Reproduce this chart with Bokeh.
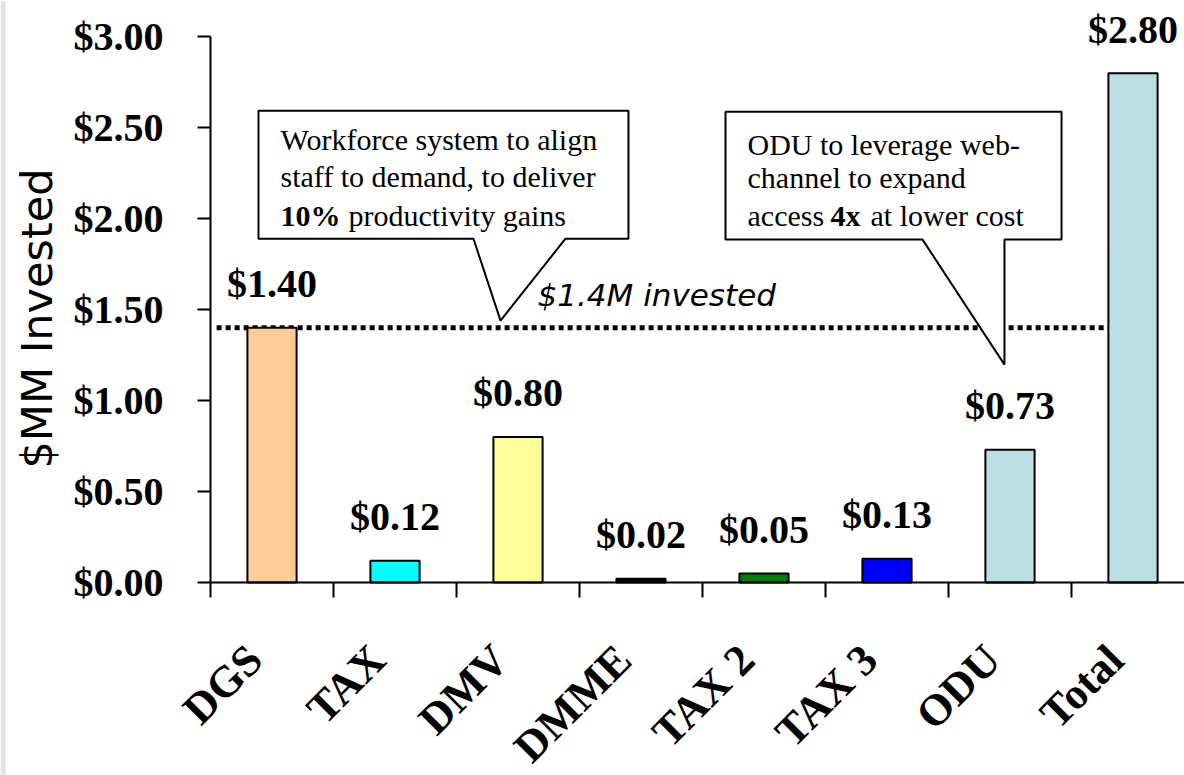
import math
from bokeh.plotting import figure
from bokeh.models import ColumnDataSource, FixedTicker, NumeralTickFormatter, Range1d, BoxAnnotation
from bokeh.core.properties import value
from bokeh.embed import file_html
from bokeh.resources import INLINE

categories = ["DGS", "TAX", "DMV", "DMME", "TAX 2", "TAX 3", "ODU", "Total"]
investments = [1.40, 0.12, 0.80, 0.02, 0.05, 0.13, 0.73, 2.80]
bar_colors = ["#FFCC99", "#00FFFF", "#FFFF99", "#000000", "#008000", "#0000FF", "#BBE0E3", "#BBE0E3"]
y_ticks = [0.0, 0.5, 1.0, 1.5, 2.0, 2.5, 3.0]
y_title = "$MM Invested"
invested_level = 1.4
invested_text = "$1.4M invested"
callout1_lines = ["Workforce system to align", "staff to demand, to deliver"]
callout1_bold = "10%"
callout1_rest = "productivity gains"
callout2_lines = ["ODU to leverage web-", "channel to expand"]
callout2_pre = "access"
callout2_bold = "4x"
callout2_rest = "at lower cost"

positions = [i + 0.5 for i in range(len(categories))]
label_shift = 0.14
labels = ["$%.2f" % v for v in investments]
src = ColumnDataSource(dict(x=positions, top=investments, color=bar_colors, label=labels))

W, H = 1184, 775
ZERO_X, ZERO_Y = 210, 582   # pixel position of the axes origin
PX_X, PX_Y = 123.0, 181.9
x_end = (W - ZERO_X) / PX_X
p = figure(width=W, height=H, output_backend="svg", toolbar_location=None,
           x_range=Range1d(-ZERO_X / PX_X, x_end),
           y_range=Range1d(-(H - ZERO_Y) / PX_Y, ZERO_Y / PX_Y),
           min_border_left=0, min_border_right=0, min_border_top=0, min_border_bottom=0)
p.outline_line_color = None
p.grid.visible = False
p.background_fill_color = "white"
p.border_fill_color = "white"

# x axis (drawn at value 0)
xa = p.xaxis[0]
xa.fixed_location = 0
xa.bounds = (0, x_end)
label_pos = [x - label_shift for x in positions]
xa.ticker = FixedTicker(ticks=label_pos, minor_ticks=list(range(len(categories) + 1)))
xa.major_label_overrides = {pos: cat for pos, cat in zip(label_pos, categories)}
xa.major_label_orientation = math.pi / 4
xa.major_tick_out = 0
xa.major_tick_in = 0
xa.minor_tick_out = 15
xa.minor_tick_in = 0
xa.minor_tick_line_width = 2
xa.minor_tick_line_color = "black"
xa.axis_line_width = 2
xa.axis_line_color = "black"
xa.major_label_text_font = "Liberation Serif"
xa.major_label_text_font_style = "bold"
xa.major_label_text_font_size = "44px"
xa.major_label_text_color = "black"
xa.major_label_standoff = 55

# y axis (drawn at x = 0)
ya = p.yaxis[0]
ya.fixed_location = 0
ya.ticker = FixedTicker(ticks=y_ticks)
ya.formatter = NumeralTickFormatter(format="$0.00")
ya.bounds = (0, 3)
ya.major_tick_out = 13
ya.major_tick_in = 0
ya.major_tick_line_width = 2
ya.minor_tick_line_color = None
ya.axis_line_width = 2
ya.axis_line_color = "black"
ya.major_label_text_font = "Liberation Serif"
ya.major_label_text_font_style = "bold"
ya.major_label_text_font_size = "40px"
ya.major_label_text_color = "black"
ya.major_label_standoff = 34

# y axis title
p.text(x=[-174 / PX_X], y=[264 / PX_Y], text=[y_title], angle=math.pi / 2,
       text_align="center", text_baseline="middle", text_font=value("DejaVu Sans"),
       text_font_size="43px", text_color="black")

# left grey strip of the slide
p.add_layout(BoxAnnotation(left=0, right=5, left_units="screen", right_units="screen",
                           fill_color="#E4E4DE", fill_alpha=1.0, line_color=None))

# reference line
p.line([positions[0] - 0.45, positions[-1]], [invested_level, invested_level],
       line_color="black", line_width=5, line_dash="5 4")

# bars
p.vbar(x="x", top="top", bottom=0, width=0.4, fill_color="color", line_color="black",
       line_width=2, source=src)
p.text(x="x", y="top", text="label", y_offset=-44, text_align="center",
       text_baseline="alphabetic", text_font=value("Liberation Serif"),
       text_font_style="bold", text_font_size="40px", text_color="black", source=src)

# reference label
p.text(x=[2.659], y=[1.515], text=[invested_text], y_offset=-12,
       text_font=value("DejaVu Sans"),
       text_font_style="italic", text_font_size="31px", text_color="black",
       text_baseline="alphabetic", text_align="left")

# callouts
c1x = [0.390, 3.398, 3.398, 2.886, 2.358, 2.138, 0.390]
c1y = [2.593, 2.593, 1.890, 1.890, 1.440, 1.890, 1.890]
p.patch(c1x, c1y, fill_color="white", line_color="black", line_width=2)
c2x = [4.187, 6.919, 6.919, 6.455, 6.455, 5.789, 4.187]
c2y = [2.588, 2.588, 1.885, 1.885, 1.198, 1.885, 1.885]
p.patch(c2x, c2y, fill_color="white", line_color="black", line_width=2)

serif = value("Liberation Serif")
fs = "30px"
dy = -13
p.text(x=[0.569, 0.569], y=[2.363, 2.159], text=callout1_lines, text_font=serif, y_offset=dy,
       text_font_size=fs, text_baseline="alphabetic", text_color="black")
p.text(x=[0.569], y=[1.945], text=[callout1_bold], text_font=serif, text_font_style="bold",
       y_offset=dy, text_font_size=fs, text_baseline="alphabetic", text_color="black")
p.text(x=[1.122], y=[1.945], text=[callout1_rest], text_font=serif, y_offset=dy,
       text_font_size=fs, text_baseline="alphabetic", text_color="black")

p.text(x=[4.366, 4.366], y=[2.335, 2.154], text=callout2_lines, text_font=serif, y_offset=dy,
       text_font_size=fs, text_baseline="alphabetic", text_color="black")
p.text(x=[4.366], y=[1.945], text=[callout2_pre], text_font=serif, y_offset=dy,
       text_font_size=fs, text_baseline="alphabetic", text_color="black")
p.text(x=[5.041], y=[1.945], text=[callout2_bold], text_font=serif, text_font_style="bold",
       y_offset=dy, text_font_size=fs, text_baseline="alphabetic", text_color="black")
p.text(x=[5.366], y=[1.945], text=[callout2_rest], text_font=serif, y_offset=dy,
       text_font_size=fs, text_baseline="alphabetic", text_color="black")

open("out.html", "w").write(file_html(p, INLINE))
